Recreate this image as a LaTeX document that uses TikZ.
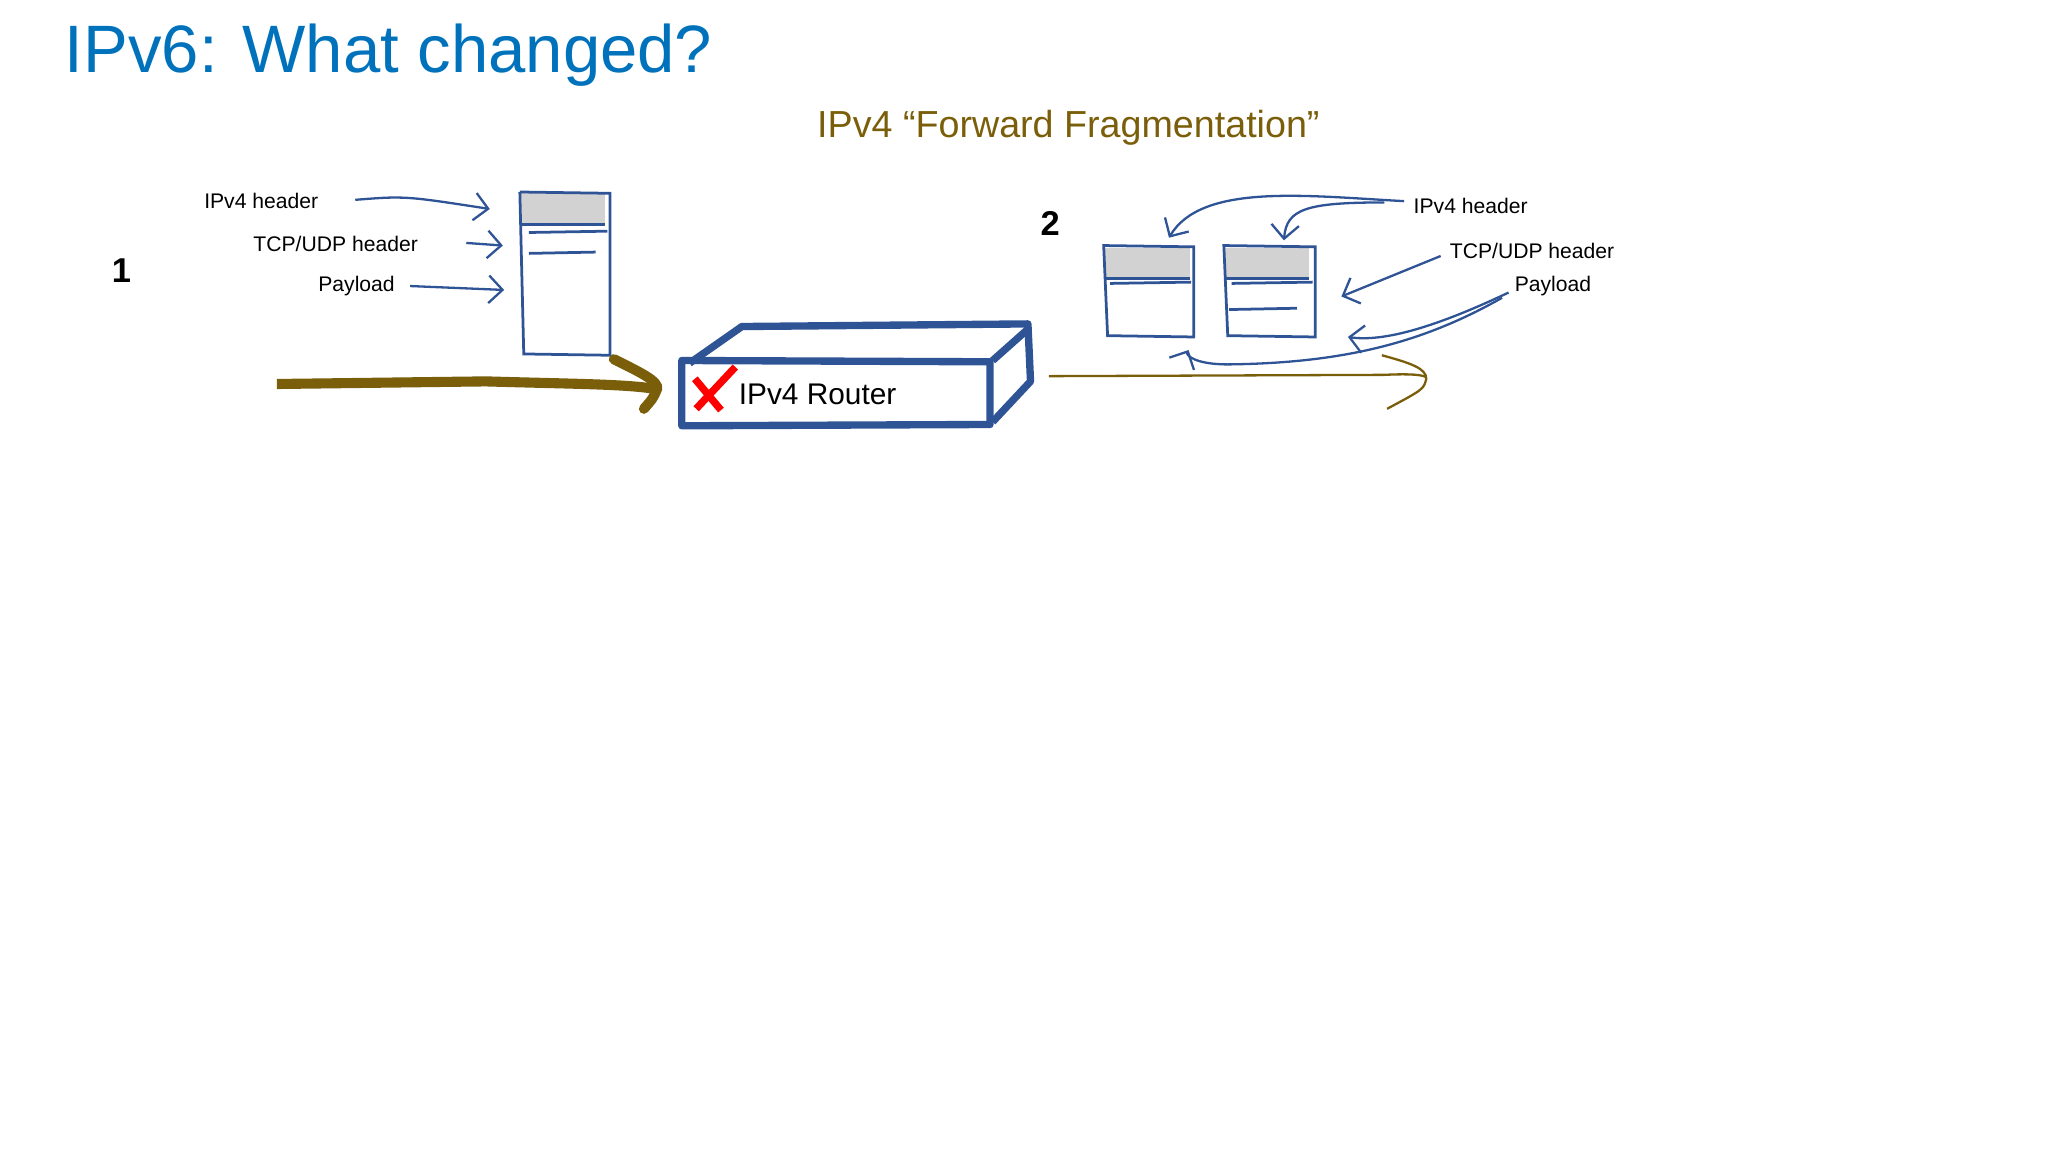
\documentclass[tikz,border=0pt]{standalone}
\usepackage{fontspec}
\setmainfont{Liberation Sans}
\usetikzlibrary{arrows.meta}
\begin{document}
\begin{tikzpicture}[x=0.01cm,y=-0.01cm,
  thinar/.style={draw=skblue,line width=0.5pt,-{Straight Barb[length=3pt,width=6pt]}},
  lab/.style={font=\fontsize{4.6}{6}\selectfont,inner sep=0},
  pkt/.style={draw=skblue,line width=0.6pt}]
\definecolor{skblue}{RGB}{47,84,150}
\definecolor{ttl}{RGB}{0,114,188}
\definecolor{olive}{RGB}{122,94,10}
\useasboundingbox (0,0) rectangle (1568,882);
\node[anchor=west,text=ttl,font=\fontsize{14.6}{18}\selectfont,inner sep=0] (title) at (49,42) {IPv6: What changed?};
\node[text=olive,font=\fontsize{8.2}{10}\selectfont,inner sep=0] (sub) at (818,98) {IPv4 “Forward Fragmentation”};
\node[font=\fontsize{7.5}{9}\selectfont\bfseries,inner sep=0] (n1) at (93,207) {1};
\node[font=\fontsize{7.5}{9}\selectfont\bfseries,inner sep=0] (n2) at (804,171) {2};
% packet 1
\fill[gray!35] (398,148) rectangle (463,172);
\draw[pkt] (398,147) -- (467,148) -- (467,272) -- (401,271) -- (398,147);
\draw[pkt] (398,172) -- (463,172);
\draw[pkt] (405,178) -- (465,177);
\draw[pkt] (405,194) -- (456,193);
\node[lab] (l1) at (200,154) {IPv4 header};
\node[lab] (l2) at (257,187) {TCP/UDP header};
\node[lab] (l3) at (273,219) {Payload};
\coordinate (a1) at (375,160); \coordinate (a2) at (385,188); \coordinate (a3) at (386,222);
\draw[thinar] (272,153) .. controls (310,150) .. (a1);
\draw[thinar] (357,186) -- (a2);
\draw[thinar] (314,219) -- (a3);
% big arrow
\draw[olive,line width=2.2pt] (212,294) -- (372,292) .. controls (440,294) and (480,294) .. (503,298);
\draw[olive,line width=2.2pt,line cap=round] (470,275) .. controls (490,285) and (505,292) .. (503,298) .. controls (500,305) .. (493,313);
% router
\draw[skblue,line width=1.6pt,line join=round] (522,276) -- (758,277) -- (758,325) -- (522,326) -- cycle;
\draw[skblue,line width=1.6pt,line join=round] (528,278) -- (568,250) -- (787,248) -- (789,292) -- (760,323);
\draw[skblue,line width=1.6pt] (760,276) -- (787,252);
\draw[red,line width=1.6pt] (532,290) -- (552,314);
\draw[red,line width=1.6pt] (533,313) -- (563,281);
\node[font=\fontsize{6.5}{8}\selectfont,inner sep=0] (rt) at (626,302) {IPv4 Router};
% thin olive
\draw[olive,line width=0.5pt] (803,288) -- (1060,287) .. controls (1080,286) and (1090,287) .. (1092,289);
\draw[olive,line width=0.5pt] (1058,272) .. controls (1080,278) and (1092,282) .. (1092,290) .. controls (1090,298) .. (1062,313);
% packets 2
\fill[gray!35] (845,190) rectangle (911,213);
\fill[gray!35] (937,190) rectangle (1002,213);
\draw[pkt] (845,188) -- (914,189) -- (914,258) -- (848,257) -- cycle;
\draw[pkt] (845,213) -- (911,213); \draw[pkt] (850,217) -- (912,216);
\draw[pkt] (937,188) -- (1007,189) -- (1007,258) -- (940,257) -- cycle;
\draw[pkt] (937,213) -- (1002,213); \draw[pkt] (943,217) -- (1005,216);
\draw[pkt] (941,237) -- (993,236);
\node[lab] (r1) at (1126,158) {IPv4 header};
\node[lab] (r2) at (1173,192) {TCP/UDP header};
\node[lab] (r3) at (1189,219) {Payload};
\coordinate (b1) at (895,182); \coordinate (b2) at (983,184); \coordinate (b3) at (1027,227);
\coordinate (b4) at (1032,258); \coordinate (b5) at (910,268);
\draw[thinar] (1075,154) .. controls (1000,150) and (920,140) .. (b1);
\draw[thinar] (1060,155) .. controls (1000,155) and (985,160) .. (b2);
\draw[thinar] (1103,196) -- (b3);
\draw[thinar] (1155,224) .. controls (1100,250) and (1060,262) .. (b4);
\draw[thinar] (1150,228) .. controls (1090,262) and (1030,278) .. (940,279) .. controls (915,279) and (908,272) .. (b5);
\end{tikzpicture}
\end{document}
